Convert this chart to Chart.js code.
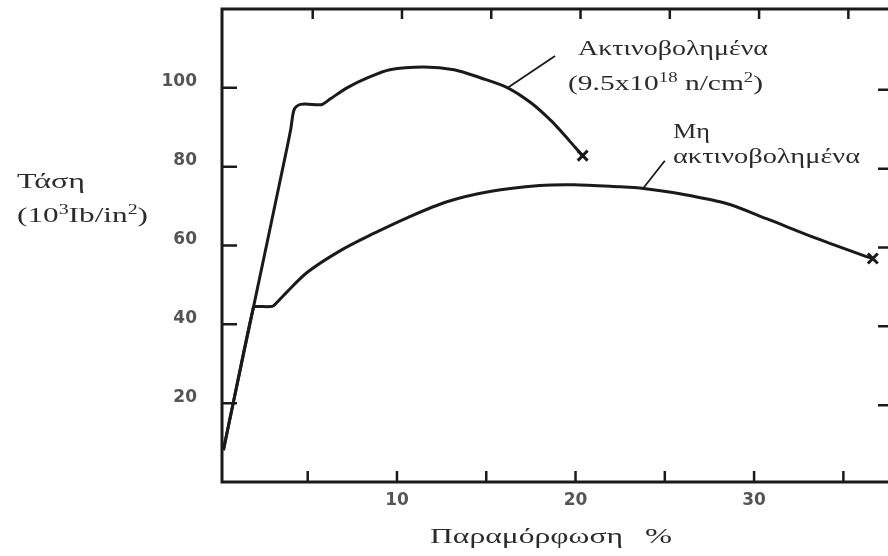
<!DOCTYPE html>
<html lang="el">
<head>
<meta charset="UTF-8">
<title>Τάση - Παραμόρφωση</title>
<script src="https://cdn.jsdelivr.net/npm/chart.js"></script>
<style>
  body { margin: 0; background: #fff; }
  canvas { display: block; }
</style>
</head>
<body>
<canvas id="stressChart" width="888" height="556"></canvas>
<script>
// strain (%) and stress (10^3 lb/in^2)
const irradStrain = [0.28, 0.84, 1.96, 3.75, 4.05, 4.25, 4.6, 5.6, 5.82, 6.27, 7.2, 8.34, 9.6, 11.5, 13.2, 14.7, 16.2, 17.5, 18.6, 19.3, 20.0, 20.4];
const irradStress = [8.1, 20.3, 44.3, 82.8, 89.5, 94.6, 95.8, 95.7, 95.8, 97.2, 100.0, 102.5, 104.6, 105.3, 104.6, 102.5, 100.0, 96.2, 91.8, 88.4, 84.8, 82.8];
const plainStrain = [0.28, 0.84, 1.96, 2.1, 2.9, 3.08, 3.75, 4.98, 6.83, 8.67, 10.6, 12.8, 15.2, 18.0, 19.9, 22.5, 23.6, 26.0, 28.5, 30.7, 33.5, 36.1, 36.65];
const plainStress = [8.1, 20.3, 44.3, 44.5, 44.5, 44.7, 47.8, 53.2, 58.7, 63.0, 67.1, 71.1, 73.7, 75.2, 75.4, 74.9, 74.6, 73.0, 70.6, 66.8, 61.8, 57.5, 56.7];

const xLabelTicks = [10, 20, 30];
const xMarkTicks = [5, 10, 15, 20, 25, 30, 35];
const yTicks = [20, 40, 60, 80, 100];

const ink = '#1a1a1a';
const textInk = '#2b2b2b';

function toPoints(xs, ys) {
    return xs.map((x, i) => ({ x: x, y: ys[i] }));
}

// only the last point (fracture) gets the X marker
function endRadius(n) {
    return Array.from({ length: n }, (_, i) => i === n - 1 ? 7 : 0);
}

// the scanned figure is stretched sideways, so text is scaled to its width
function drawText(ctx, runs, left, baseline, width, size) {
    const widths = runs.map(([t, sup]) => {
        ctx.font = (sup ? Math.round(size * 0.62) : size) + 'px "Liberation Serif"';
        return ctx.measureText(t).width;
    });
    const total = widths.reduce((a, b) => a + b, 0);
    ctx.save();
    ctx.translate(left, baseline);
    ctx.scale(width / total, 1);
    let cx = 0;
    runs.forEach(([t, sup], i) => {
        ctx.font = (sup ? Math.round(size * 0.62) : size) + 'px "Liberation Serif"';
        ctx.fillText(t, cx, sup ? -size * 0.38 : 0);
        cx += widths[i];
    });
    ctx.restore();
}

const framePlugin = {
    id: 'frame',
    afterDraw(chart) {
        const { ctx, chartArea: a, scales: { x, y } } = chart;
        ctx.save();
        ctx.strokeStyle = ink;
        ctx.lineCap = 'butt';

        // frame (right edge is cut off in the original)
        ctx.lineWidth = 3;
        ctx.beginPath();
        ctx.moveTo(a.right, a.top);
        ctx.lineTo(a.left, a.top);
        ctx.lineTo(a.left, a.bottom);
        ctx.lineTo(a.right, a.bottom);
        ctx.stroke();

        // inward ticks
        ctx.lineWidth = 2.5;
        ctx.beginPath();
        xMarkTicks.forEach(v => {
            const px = x.getPixelForValue(v);
            ctx.moveTo(px, a.bottom); ctx.lineTo(px, a.bottom - 11);
            ctx.moveTo(px + 5, a.top); ctx.lineTo(px + 5, a.top + 10);
        });
        yTicks.forEach(v => {
            const py = y.getPixelForValue(v);
            ctx.moveTo(a.left, py); ctx.lineTo(a.left + 15, py);
            ctx.moveTo(a.right, py + 2); ctx.lineTo(a.right - 10, py + 2);
        });
        ctx.stroke();

        // leader lines to the curves
        ctx.lineWidth = 1.8;
        ctx.beginPath();
        ctx.moveTo(x.getPixelForValue(16.2), y.getPixelForValue(100.0));
        ctx.lineTo(x.getPixelForValue(18.85), y.getPixelForValue(108.1));
        ctx.moveTo(x.getPixelForValue(23.8), y.getPixelForValue(74.6));
        ctx.lineTo(x.getPixelForValue(25.0), y.getPixelForValue(81.5));
        ctx.stroke();

        ctx.fillStyle = textInk;
        ctx.textBaseline = 'alphabetic';
        ctx.textAlign = 'left';

        // curve labels
        drawText(ctx, [['Ακτινοβολημένα', false]], 578, 55, 190, 22);
        drawText(ctx, [['(9.5x10', false], ['18', true], [' n/cm', false], ['2', true], [')', false]], 568, 90, 195, 22);
        drawText(ctx, [['Μη', false]], 673, 138, 37, 22);
        drawText(ctx, [['ακτινοβολημένα', false]], 673, 163, 187, 22);

        // axis titles
        drawText(ctx, [['Τάση', false]], 17, 188, 68, 22);
        drawText(ctx, [['(10', false], ['3', true], ['Ib/in', false], ['2', true], [')', false]], 17, 222, 131, 22);
        drawText(ctx, [['Παραμόρφωση', false]], 430, 543, 193, 22);
        drawText(ctx, [['%', false]], 645, 543, 27, 22);

        ctx.restore();
    }
};

const ctx = document.getElementById('stressChart').getContext('2d');
const stressChart = new Chart(ctx, {
    type: 'scatter',
    data: {
        datasets: [{
            label: 'Ακτινοβολημένα',
            data: toPoints(irradStrain, irradStress),
            showLine: true,
            borderColor: ink,
            borderWidth: 3,
            tension: 0.3,
            borderJoinStyle: 'round',
            pointStyle: 'crossRot',
            pointRadius: endRadius(irradStrain.length),
            pointBorderColor: ink,
            pointBorderWidth: 3,
            clip: false
        }, {
            label: 'Μη ακτινοβολημένα',
            data: toPoints(plainStrain, plainStress),
            showLine: true,
            borderColor: ink,
            borderWidth: 3,
            tension: 0.3,
            borderJoinStyle: 'round',
            pointStyle: 'crossRot',
            pointRadius: endRadius(plainStrain.length),
            pointBorderColor: ink,
            pointBorderWidth: 3,
            clip: false
        }]
    },
    options: {
        responsive: false,
        animation: false,
        layout: { autoPadding: false, padding: { top: 9, right: 0, bottom: 0, left: 0 } },
        plugins: {
            legend: { display: false },
            tooltip: { enabled: false }
        },
        scales: {
            x: {
                type: 'linear',
                min: 0.2,
                max: 37.5,
                grid: { display: false },
                border: { display: false },
                afterBuildTicks: scale => { scale.ticks = xLabelTicks.map(v => ({ value: v })); },
                afterFit: scale => {
                    scale.height = 74;
                    scale.paddingLeft = 0;
                    scale.paddingRight = 0;
                },
                ticks: {
                    padding: 0,
                    color: '#555',
                    font: { family: 'DejaVu Sans', size: 17, weight: 'bold' }
                }
            },
            y: {
                type: 'linear',
                min: 0,
                max: 120,
                grid: { display: false },
                border: { display: false },
                afterBuildTicks: scale => { scale.ticks = yTicks.map(v => ({ value: v })); },
                afterFit: scale => {
                    scale.width = 222;
                    scale.paddingTop = 0;
                    scale.paddingBottom = 0;
                },
                ticks: {
                    padding: 17,
                    labelOffset: -6,
                    color: '#555',
                    font: { family: 'DejaVu Sans', size: 17, weight: 'bold' }
                }
            }
        }
    },
    plugins: [framePlugin]
});
</script>
</body>
</html>
